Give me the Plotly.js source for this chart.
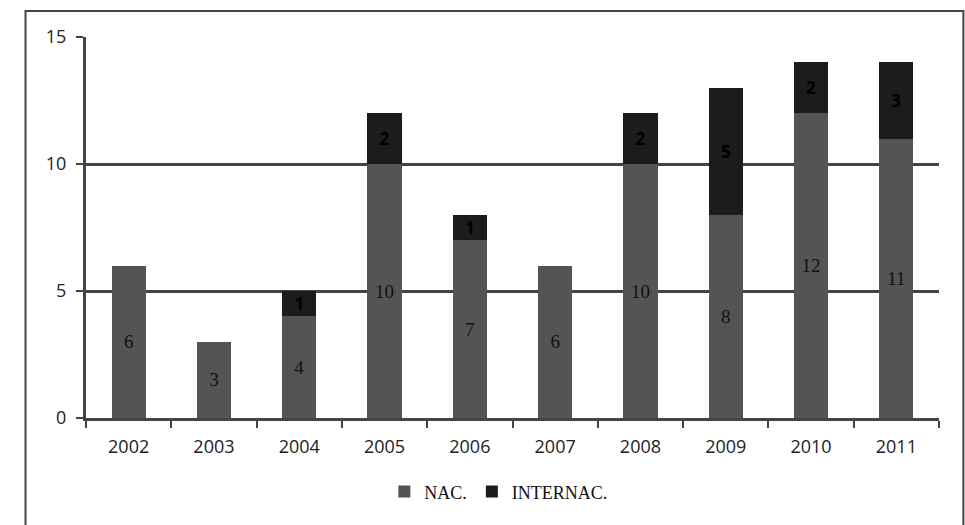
<!DOCTYPE html>
<html>
<head>
<meta charset="utf-8">
<script src="https://cdn.plot.ly/plotly-3.0.1.min.js"></script>
<style>
html,body{margin:0;padding:0;background:#fff;}
#chart{width:965px;height:525px;}
</style>
</head>
<body>
<div id="chart"></div>
<script>
const years = ['2002','2003','2004','2005','2006','2007','2008','2009','2010','2011'];
const nac = [6,3,4,10,7,6,10,8,12,11];
const internac = [null,null,1,2,1,null,2,5,2,3];
const yTicks = [0,5,10,15];

const serif = 'Liberation Serif, DejaVu Serif, serif';
const sans = 'Open Sans, Liberation Sans, sans-serif';

const traces = [
  {
    type:'bar', name:'NAC.', x:years, y:nac,
    marker:{color:'#545454'},
    text:nac.map(v=>v==null?'':String(v)), textposition:'inside', insidetextanchor:'middle',
    textangle:0, constraintext:'none', textfont:{family:serif, size:19, color:'#111'},
    hoverinfo:'skip'
  },
  {
    type:'bar', name:'INTERNAC.', x:years, y:internac,
    marker:{color:'#1c1c1c'},
    text:internac.map(v=>v==null?'':String(v)), textposition:'inside', insidetextanchor:'middle',
    textangle:0, constraintext:'none', textfont:{family:sans, size:17, color:'#000', weight:'bold'},
    hoverinfo:'skip'
  }
];

const layout = {
  width:965, height:525,
  margin:{l:86, r:26, t:37, b:107},
  paper_bgcolor:'#fff', plot_bgcolor:'#fff',
  barmode:'stack', bargap:0.6,
  showlegend:true,
  legend:{orientation:'h', x:0.484, xanchor:'center', y:-0.194, yanchor:'middle',
          font:{family:serif, size:18, color:'#111'}, itemwidth:30, tracegroupgap:0, traceorder:'normal'},
  xaxis:{
    type:'category', tickson:'boundaries', ticks:'outside', ticklen:7, tickwidth:2, tickcolor:'#444',
    showline:true, linecolor:'#444', linewidth:3, showgrid:false,
    tickfont:{family:sans, size:18, color:'#222'}, ticklabelstandoff:10
  },
  yaxis:{
    range:[0,15], tickvals:yTicks, ticktext:yTicks.map(String),
    ticks:'outside', ticklen:7, tickwidth:2, tickcolor:'#444',
    showline:true, linecolor:'#444', linewidth:3,
    showgrid:true, gridcolor:'#444', gridwidth:3, zeroline:false,
    tickfont:{family:sans, size:18, color:'#222'}, ticklabelstandoff:6
  },
  shapes:[
    {type:'rect', xref:'paper', yref:'paper', x0:-0.0709, x1:1.0286, y0:-0.35, y1:1.068,
     line:{color:'#444', width:2}, fillcolor:'rgba(0,0,0,0)', layer:'below'}
  ]
};

Plotly.newPlot('chart', traces, layout, {displayModeBar:false, staticPlot:true});
</script>
</body>
</html>
